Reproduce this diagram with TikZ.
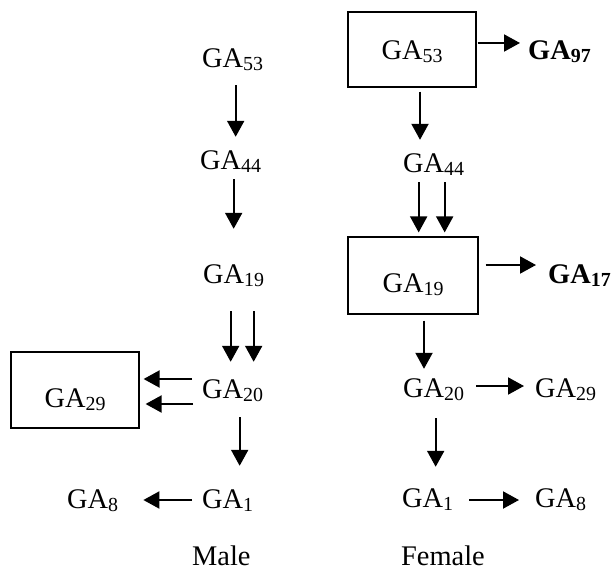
\documentclass[tikz,border=0pt]{standalone}
\usepackage{fontspec}
\setmainfont{Liberation Serif}
\usetikzlibrary{arrows.meta}
\newcommand{\ga}[1]{GA\raisebox{-3bp}{\fontsize{20}{20}\selectfont #1}}
\tikzstyle{gatext} = [anchor=base west, inner sep=0pt, text height=20bp, text depth=6bp, font=\fontsize{28.5}{30}\selectfont]
\tikzstyle{sexlabel} = [anchor=base west, inner sep=0pt, text depth=0pt, font=\fontsize{28.5}{30}\selectfont]
\tikzstyle{gabox} = [draw, line width=1.2bp, inner sep=0pt, text depth=0pt, font=\fontsize{28.5}{30}\selectfont]
\tikzstyle{arr} = [-{Triangle[width=17bp,length=16bp]}, line width=2bp]

\begin{document}
\begin{tikzpicture}[x=1bp, y=-1bp]
	\useasboundingbox (0,0) rectangle (612,570);
	\node[gatext](m53) at (202,68) {\ga{53}};
	\node[gatext](m44) at (200,170) {\ga{44}};
	\node[gatext](m19) at (203,283) {\ga{19}};
	\node[gatext](m20) at (202,398) {\ga{20}};
	\node[gatext](m1) at (202,508) {\ga{1}};
	\node[gatext](m8) at (67,508) {\ga{8}};
	\node[gabox, minimum width=128bp, minimum height=76bp, text height=34bp](m29) at (75,390) {\ga{29}};
	\node[sexlabel](male) at (192,565) {Male};
	\node[gabox, minimum width=128bp, minimum height=75bp, text height=21bp](f53) at (412,49.5) {\ga{53}};
	\node[gatext](f97) at (528,60) {\textbf{\ga{97}}};
	\node[gatext](f44) at (403,173) {\ga{44}};
	\node[gabox, minimum width=130bp, minimum height=77bp, text height=33bp](f19) at (413,275.5) {\ga{19}};
	\node[gatext](f17) at (548,283) {\textbf{\ga{17}}};
	\node[gatext](f20) at (403,397) {\ga{20}};
	\node[gatext](f29) at (535,397) {\ga{29}};
	\node[gatext](f1) at (402,507) {\ga{1}};
	\node[gatext](f8) at (535,507) {\ga{8}};
	\node[sexlabel](female) at (401,565) {Female};
	\draw[arr, shorten <=11bp, shorten >=13bp] ([xshift=3bp]m53.south) -- ([xshift=3bp]m53.south |- m44.north);
	\draw[arr, shorten <=3bp, shorten >=34bp] ([xshift=3bp]m44.south) -- ([xshift=3bp]m44.south |- m19.north);
	\draw[arr, shorten <=22bp, shorten >=16bp] ([xshift=-3bp]m19.south) -- ([xshift=-3bp]m19.south |- m20.north);
	\draw[arr, shorten <=22bp, shorten >=16bp] ([xshift=20bp]m19.south) -- ([xshift=20bp]m19.south |- m20.north);
	\draw[arr, shorten <=10bp, shorten >=4bp] ([yshift=19bp]m20.base west) -- ([yshift=19bp]m20.base west -| m29.east);
	\draw[arr, shorten <=9bp, shorten >=6bp] ([yshift=-6bp]m20.base west) -- ([yshift=-6bp]m20.base west -| m29.east);
	\draw[arr, shorten <=13bp, shorten >=22bp] ([xshift=7bp]m20.south) -- ([xshift=7bp]m20.south |- m1.north);
	\draw[arr, shorten <=10bp, shorten >=25bp] ([yshift=8bp]m1.base west) -- ([yshift=8bp]m1.base west -| m8.east);
	\draw[arr, shorten <=1bp, shorten >=8bp] ([yshift=6.5bp]f53.east) -- ([yshift=6.5bp]f53.east -| f97.west);
	\draw[arr, shorten <=4bp, shorten >=13bp] ([xshift=8bp]f53.south) -- ([xshift=8bp]f53.south |- f44.north);
	\draw[arr, shorten <=3bp, shorten >=4bp] ([xshift=-15bp]f44.south) -- ([xshift=-15bp]f44.south |- f19.north);
	\draw[arr, shorten <=3bp, shorten >=4bp] ([xshift=11bp]f44.south) -- ([xshift=11bp]f44.south |- f19.north);
	\draw[arr, shorten <=7bp, shorten >=12bp] ([yshift=10.5bp]f19.east) -- ([yshift=10.5bp]f19.east -| f17.west);
	\draw[arr, shorten <=6bp, shorten >=8bp] ([xshift=11bp]f19.south) -- ([xshift=11bp]f19.south |- f20.north);
	\draw[arr, shorten <=12bp, shorten >=11bp] ([yshift=11bp]f20.base east) -- ([yshift=11bp]f20.base east -| f29.west);
	\draw[arr, shorten <=15bp, shorten >=20bp] ([xshift=2bp]f20.south) -- ([xshift=2bp]f20.south |- f1.north);
	\draw[arr, shorten <=16bp, shorten >=16bp] ([yshift=7bp]f1.base east) -- ([yshift=7bp]f1.base east -| f8.west);
\end{tikzpicture}
\end{document}
